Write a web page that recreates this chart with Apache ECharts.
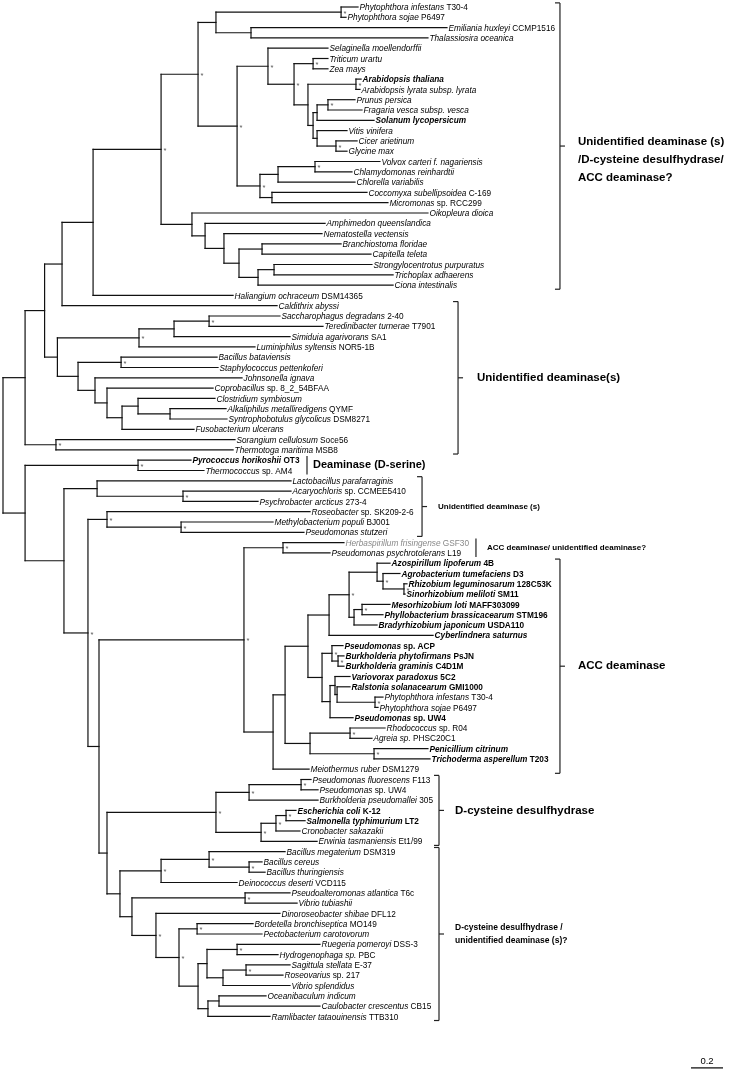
<!DOCTYPE html>
<html><head><meta charset="utf-8">
<script src="https://cdn.jsdelivr.net/npm/echarts@6/dist/echarts.min.js"></script>
<style>html,body{margin:0;padding:0;background:#fff}#c{width:742px;height:1079px}</style>
</head><body><div id="c"></div>
<script>
// ---------- DATA ----------
const speciesNames = [
'Phytophthora infestans','Phytophthora sojae','Emiliania huxleyi','Thalassiosira oceanica','Selaginella moellendorffii',
'Triticum urartu','Zea mays','Arabidopsis thaliana','Arabidopsis lyrata subsp. lyrata','Prunus persica',
'Fragaria vesca subsp. vesca','Solanum lycopersicum','Vitis vinifera','Cicer arietinum','Glycine max',
'Volvox carteri f. nagariensis','Chlamydomonas reinhardtii','Chlorella variabilis','Coccomyxa subellipsoidea','Micromonas',
'Oikopleura dioica','Amphimedon queenslandica','Nematostella vectensis','Branchiostoma floridae','Capitella teleta',
'Strongylocentrotus purpuratus','Trichoplax adhaerens','Ciona intestinalis','Haliangium ochraceum','Caldithrix abyssi',
'Saccharophagus degradans','Teredinibacter turnerae','Simiduia agarivorans','Luminiphilus syltensis','Bacillus bataviensis',
'Staphylococcus pettenkoferi','Johnsonella ignava','Coprobacillus','Clostridium symbiosum','Alkaliphilus metalliredigens',
'Syntrophobotulus glycolicus','Fusobacterium ulcerans','Sorangium cellulosum','Thermotoga maritima','Pyrococcus horikoshii',
'Thermococcus','Lactobacillus parafarraginis','Acaryochloris','Psychrobacter arcticus','Roseobacter',
'Methylobacterium populi','Pseudomonas stutzeri','Herbaspirillum frisingense','Pseudomonas psychrotolerans','Azospirillum lipoferum',
'Agrobacterium tumefaciens','Rhizobium leguminosarum','Sinorhizobium meliloti','Mesorhizobium loti','Phyllobacterium brassicacearum',
'Bradyrhizobium japonicum','Cyberlindnera saturnus','Pseudomonas','Burkholderia phytofirmans','Burkholderia graminis',
'Variovorax paradoxus','Ralstonia solanacearum','Phytophthora infestans','Phytophthora sojae','Pseudomonas',
'Rhodococcus','Agreia sp.','Penicillium citrinum','Trichoderma asperellum','Meiothermus ruber',
'Pseudomonas fluorescens','Pseudomonas','Burkholderia pseudomallei','Escherichia coli','Salmonella typhimurium',
'Cronobacter sakazakii','Erwinia tasmaniensis','Bacillus megaterium','Bacillus cereus','Bacillus thuringiensis',
'Deinococcus deserti','Pseudoalteromonas atlantica','Vibrio tubiashii','Dinoroseobacter shibae','Bordetella bronchiseptica',
'Pectobacterium carotovorum','Ruegeria pomeroyi','Hydrogenophaga sp.','Sagittula stellata','Roseovarius',
'Vibrio splendidus','Oceanibaculum indicum','Caulobacter crescentus','Ramlibacter tataouinensis'
];
const strainNames = [
'T30-4','P6497','CCMP1516','','',
'','','','','',
'','','','','',
'','','','C-169','sp. RCC299',
'','','','','',
'','','','DSM14365','',
'2-40','T7901','SA1','NOR5-1B','',
'','','sp. 8_2_54BFAA','','QYMF',
'DSM8271','','Soce56','MSB8','OT3',
'sp. AM4','','sp. CCMEE5410','273-4','sp. SK209-2-6',
'BJ001','','GSF30','L19','4B',
'D3','128C53K','SM11','MAFF303099','STM196',
'USDA110','','sp. ACP','PsJN','C4D1M',
'5C2','GMI1000','T30-4','P6497','sp. UW4',
'sp. R04','PHSC20C1','','T203','DSM1279',
'F113','sp. UW4','305','K-12','LT2',
'','Et1/99','DSM319','','',
'VCD115','T6c','','DFL12','MO149',
'','DSS-3','PBC','E-37','sp. 217',
'','','CB15','TTB310'
];
const boldLeaves = [7,11,44,54,55,56,57,58,59,60,61,62,63,64,65,66,69,72,73,78,79];
const grayLeaves = [52];
// distance of each tip from the root (substitutions per site)
const tipDistance = [
2.219,2.144,2.775,2.656,2.031,2.031,2.031,2.238,2.231,2.200,
2.244,2.319,2.150,2.213,2.150,2.356,2.181,2.200,2.275,2.406,
2.656,2.013,1.994,2.113,2.300,2.306,2.438,2.438,1.438,1.713,
1.731,2.000,1.794,1.575,1.338,1.344,1.494,1.313,1.325,1.394,
1.400,1.194,1.450,1.438,1.175,1.256,1.800,1.800,1.594,1.919,
1.688,1.881,2.131,2.044,2.419,2.481,2.525,2.513,2.419,2.375,
2.338,2.688,2.125,2.131,2.131,2.169,2.169,2.375,2.344,2.188,
2.388,2.306,2.656,2.669,1.913,1.925,1.969,1.969,1.831,1.888,
1.856,1.963,1.763,1.619,1.638,1.463,1.794,1.838,1.731,1.563,
1.619,1.981,1.719,1.794,1.750,1.794,1.644,1.981,1.669
];
// internal nodes: [distance from root, child, child, supported(*)]; numbers = leaves, 'nK' = node K
const cladeNodes = [
[2.113,0,1,1],[1.550,2,3,0],[1.331,'n0','n1',0],[1.938,5,6,1],[2.206,7,8,1],
[2.031,9,10,1],[1.963,'n5',11,0],[2.081,13,14,1],[1.963,12,'n7',0],[1.938,'n6','n8',0],
[1.906,'n4','n9',0],[1.819,'n3','n10',1],[1.656,4,'n11',1],[1.950,15,16,1],[1.719,'n13',17,0],
[1.681,18,19,0],[1.606,'n14','n15',1],[1.463,'n12','n16',1],[1.219,'n2','n17',1],[1.619,23,24,0],
[1.694,25,26,0],[1.594,'n20',27,0],[1.475,'n19','n21',0],[1.381,22,'n22',0],[1.263,21,'n23',0],
[1.181,20,'n24',0],[0.988,'n18','n25',1],[0.563,'n26',28,0],[0.369,'n27',29,0],[1.288,30,31,1],
[1.069,'n29',32,0],[0.850,'n30',33,1],[0.738,34,35,1],[1.044,39,40,0],[0.844,38,'n33',0],
[0.744,'n34',41,0],[0.650,37,'n35',0],[0.575,36,'n36',0],[0.469,'n32','n37',0],[0.340,'n31','n38',0],
[0.260,'n28','n39',0],[0.331,42,43,1],[0.138,'n40','n41',0],[0.844,44,45,1],[1.125,47,48,1],
[0.588,46,'n44',0],[1.113,50,51,1],[0.650,49,'n46',1],[1.750,52,53,1],[2.506,56,57,1],
[2.375,55,'n49',1],[2.338,54,'n50',0],[2.244,58,59,1],[2.194,'n52',60,0],[2.163,'n51','n53',1],
[2.038,'n54',61,0],[2.094,63,64,1],[2.056,62,'n56',1],[2.325,67,68,1],[2.088,66,'n58',0],
[2.075,65,'n59',0],[2.044,'n60',69,0],[1.994,'n57','n61',0],[1.906,'n55','n62',0],[2.169,70,71,1],
[2.319,72,73,1],[1.919,'n64','n65',0],[1.763,'n63','n66',0],[1.688,'n67',74,0],[1.506,'n48','n68',1],
[1.863,75,76,1],[1.538,'n70',77,1],[1.769,78,79,1],[1.706,'n72',80,1],[1.613,'n73',81,1],
[1.331,'n71','n74',1],[1.538,83,84,1],[1.288,82,'n76',1],[0.988,'n77',85,1],[1.513,86,87,1],
[1.213,89,90,1],[1.463,91,92,1],[1.519,93,94,1],[1.375,'n82',95,0],[1.275,'n81','n83',0],
[1.350,96,97,0],[1.281,'n85',98,0],[1.219,'n84','n86',0],[1.100,'n80','n87',1],[0.956,88,'n88',1],
[0.806,'n79','n89',0],[0.731,'n78','n90',0],[0.650,'n75','n91',0],[0.600,'n69','n92',0],[0.531,'n47','n93',1],
[0.381,'n45','n94',0],[0.138,'n43','n95',0],[0.000,'n42','n96',0]
];
// annotated groups
const groupLabels = [
'Unidentified deaminase (s)\n/D-cysteine desulfhydrase/\nACC deaminase?',
'Unidentified deaminase(s)',
'Deaminase (D-serine)',
'Unidentified deaminase (s)',
'ACC deaminase/ unidentified deaminase?',
'ACC deaminase',
'D-cysteine desulfhydrase',
'D-cysteine desulfhydrase /\nunidentified deaminase (s)?'
];
const groupFirstLeaf = [0,29,44,46,52,54,75,82];
const groupLastLeaf  = [27,43,45,51,53,74,81,98];
const scaleBarLength = 0.2;
const scaleBarLabel = '0.2';

// ---------- LAYOUT / STYLE ----------
const groupBarDistance = [3.481,2.844,1.900,2.619,2.956,3.481,2.725,2.725];
const groupIsBracket   = [1,1,0,1,0,1,1,1];
const groupFontSize    = [11.5,11.5,11,8,8,11.5,11.5,8.5];
const groupLabelGap    = [18,19,6,16,11,18,16,16];
const groupLabelShiftY = [14,0,0,0,0,0,0,0];
const FONT = "'Liberation Sans',Arial,Helvetica,sans-serif";
const LEAF_FS = 9.5;
const LEAF_SQUEEZE = 0.87;

// ---------- BUILD ----------
const nodeY = [];
const refY = r => typeof r === 'number' ? r : nodeY[+r.slice(1)];
const refX = r => typeof r === 'number' ? tipDistance[r] : cladeNodes[+r.slice(1)][0];
const segments = [];
const stars = [];
cladeNodes.forEach((nd, k) => {
  const x = nd[0], kids = nd.slice(1, 3);
  const ys = kids.map(refY);
  nodeY[k] = (Math.min(...ys) + Math.max(...ys)) / 2;
  segments.push([x, Math.min(...ys), x, Math.max(...ys)]);
  kids.forEach(c => segments.push([x, refY(c), refX(c), refY(c)]));
  if (nd[3]) stars.push([x, nodeY[k]]);
});
const leafRich = speciesNames.map((s, i) => {
  const pre = grayLeaves.includes(i) ? 'g' : boldLeaves.includes(i) ? 'b' : '';
  let t = '{' + pre + 'i|' + s + '}';
  if (strainNames[i]) t += ' {' + pre + 'n|' + strainNames[i] + '}';
  return t;
});
const mk = (italic, bold, color) => ({fontStyle: italic ? 'italic' : 'normal', fontWeight: bold ? 'bold' : 'normal',
  fontSize: LEAF_FS, fontFamily: FONT, fill: color});
const RICH = { i: mk(1,0,'#000'), n: mk(0,0,'#000'), bi: mk(1,1,'#000'), bn: mk(0,1,'#000'),
  gi: mk(1,0,'#888'), gn: mk(0,0,'#888') };

const chart = echarts.init(document.getElementById('c'), null, {renderer: 'canvas'});
chart.setOption({
  animation: false,
  backgroundColor: '#fff',
  grid: {left: 3, top: 7, width: 720, height: 104 * 10.3},
  xAxis: {type: 'value', min: 0, max: 4.5, show: false},
  yAxis: {type: 'value', min: 0, max: 104, inverse: true, show: false},
  series: [
    { type: 'custom', data: segments, silent: true,
      renderItem: (p, api) => {
        const a = api.coord([api.value(0), api.value(1)]), b = api.coord([api.value(2), api.value(3)]);
        return {type: 'line', shape: {x1: a[0], y1: a[1], x2: b[0], y2: b[1]},
          style: {stroke: '#111', lineWidth: 1.2, lineCap: 'square'}};
      } },
    { type: 'custom', data: stars, silent: true,
      renderItem: (p, api) => {
        const a = api.coord([api.value(0), api.value(1)]);
        return {type: 'text', x: a[0] + 2.5, y: a[1] + 1.5,
          style: {text: '*', fontSize: 7.5, fontFamily: FONT, fill: '#555', verticalAlign: 'middle', align: 'left'}};
      } },
    { type: 'custom', data: tipDistance.map((d, i) => [d, i]), silent: true,
      renderItem: (p, api) => {
        const i = p.dataIndex; const a = api.coord([api.value(0), api.value(1)]);
        return {type: 'text', x: a[0] + 1.5, y: a[1] + 0.5, scaleX: LEAF_SQUEEZE,
          style: {text: leafRich[i], rich: RICH, fontSize: LEAF_FS, fontFamily: FONT, fill: '#000',
            verticalAlign: 'middle', align: 'left'}};
      } },
    { type: 'custom', silent: true,
      data: groupLabels.map((g, k) => [groupBarDistance[k], groupFirstLeaf[k] - 0.4, groupLastLeaf[k] + 0.4]),
      renderItem: (p, api) => {
        const k = p.dataIndex;
        const a = api.coord([api.value(0), api.value(1)]), b = api.coord([api.value(0), api.value(2)]);
        const x = a[0], mid = (a[1] + b[1]) / 2;
        const st = {stroke: '#222', lineWidth: 1.2};
        const ch = [{type: 'line', shape: {x1: x, y1: a[1], x2: x, y2: b[1]}, style: st}];
        if (groupIsBracket[k]) {
          ch.push({type: 'line', shape: {x1: x - 5, y1: a[1], x2: x, y2: a[1]}, style: st});
          ch.push({type: 'line', shape: {x1: x - 5, y1: b[1], x2: x, y2: b[1]}, style: st});
          ch.push({type: 'line', shape: {x1: x, y1: mid, x2: x + 5, y2: mid}, style: st});
        }
        ch.push({type: 'text', x: x + groupLabelGap[k], y: mid + groupLabelShiftY[k],
          style: {text: groupLabels[k], fontSize: groupFontSize[k], fontWeight: 'bold', fontFamily: FONT,
            fill: '#000', verticalAlign: 'middle', align: 'left', lineHeight: groupFontSize[k] * 1.55}});
        return {type: 'group', children: ch};
      } },
    { type: 'custom', silent: true, data: [[4.5 - scaleBarLength, 103, 4.5]],
      renderItem: (p, api) => {
        const a = api.coord([api.value(0), api.value(1)]), b = api.coord([api.value(2), api.value(1)]);
        return {type: 'group', children: [
          {type: 'line', shape: {x1: a[0], y1: a[1], x2: b[0], y2: b[1]}, style: {stroke: '#000', lineWidth: 1.2}},
          {type: 'text', x: (a[0] + b[0]) / 2, y: a[1] - 2,
            style: {text: scaleBarLabel, fontSize: 9.5, fontFamily: FONT, fill: '#000', align: 'center', verticalAlign: 'bottom'}}
        ]};
      } }
  ]
});
</script></body></html>
